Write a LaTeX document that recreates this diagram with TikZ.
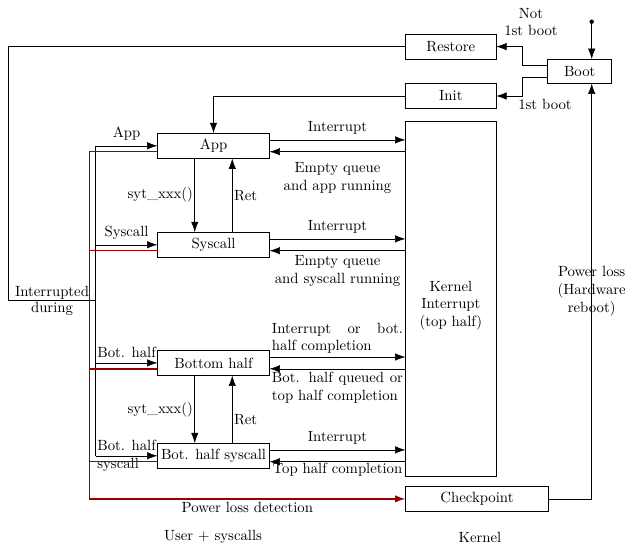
\documentclass[tikz,border=0pt]{standalone}
\usetikzlibrary{arrows.meta, positioning, calc}
\definecolor{lossRed}{RGB}{150,0,0}

\begin{document}
\begin{tikzpicture}[
  x=0.0238cm, y=-0.0238cm,
  box/.style     ={draw, align=center, inner sep=1pt, minimum height=0.59cm},
  user/.style    ={box, minimum width=2.656cm},
  kbox/.style    ={box, minimum width=2.149cm},
  flow/.style    ={-{Latex[length=7pt, width=5pt]}},
  loss/.style    ={draw=lossRed, line width=1pt},
  lossflow/.style={loss, -{Latex[length=7pt, width=5pt]}},
  note/.style    ={align=justify, text width=3.12cm, inner sep=2pt},
]
\useasboundingbox (0,0) rectangle (625,546);

% ----- Boot side -----
\node[kbox] (restore) at (450.85,46.6) {Restore};
\node[kbox] (init)    at (450.85,96)   {Init};
\node[box, minimum width=1.523cm, minimum height=0.571cm] (boot) at (579.7,71.3) {Boot};

% ----- User + syscalls -----
\node[user] (app) at (213.5,145.8) {App};
\node[user] (sys) at (213.5,244.8) {Syscall};
\node[user] (bh)  at (213.5,362.9) {Bottom half};
\node[user] (bhs) at (213.5,455.8) {Bot. half syscall};

% ----- Kernel -----
\node[kbox, minimum height=8.466cm] (kern) at (450.85,298.85)
  {\rule{0pt}{16pt}Kernel\\Interrupt\\(top half)};
\node[box, minimum width=3.394cm] (ckpt) at (477,498.9) {Checkpoint};

% Helper coordinates
\coordinate (bootIn) at (591.7,21.7);
\coordinate (bootX)  at (522.7,0);
\coordinate (outerX) at (8.3,0);
\coordinate (entryX) at (95.7,0);
\coordinate (lossX)  at (89.3,0);
\coordinate (resume) at (95.7,300);

% ----- Boot arrows -----
\fill (bootIn) circle (1.5pt);
\draw[flow] (bootIn) -- (bootIn |- boot.north);
\draw[flow] ([yshift=4.3pt]boot.west) -- ([yshift=4.3pt]boot.west -| bootX) |- (restore.east);
\draw[flow] ([yshift=-4.3pt]boot.west) -- ([yshift=-4.3pt]boot.west -| bootX) |- (init.east);
\node[align=center] (lblNot) at (531,22) {Not\\1st boot};
\node (lblFirst) at (545,104) {1st boot};

\draw[flow] (init.west) -| (app.north);
\draw (restore.west) -| (outerX |- resume) -- (resume)
  node[midway, above, inner sep=0.5pt] {Interrupted}
  node[midway, below, inner sep=1pt] {during};

% ----- Entries into user states -----
\draw (entryX |- app.west) -- (entryX |- bhs.west);
\draw[flow] (entryX |- app.west) -- (app.west) node[midway, above] {App};
\draw[flow] (entryX |- sys.west) -- (sys.west) node[midway, above] {Syscall};
\draw[flow] (entryX |- bh.west)  -- (bh.west)  node[midway, above] {Bot. half};
\draw[flow] (entryX |- bhs.west) -- (bhs.west) node[midway, align=left] {Bot. half\\syscall};

% ----- Syscalls and returns -----
\draw[flow] ([xshift=-12.7pt]app.south) -- ([xshift=-12.7pt]sys.north)
  node[midway, left, inner sep=1pt] {syt\_xxx()};
\draw[flow] ([xshift=12.7pt]sys.north) -- ([xshift=12.7pt]app.south)
  node[midway, right, inner sep=1pt] {Ret};
\draw[flow] ([xshift=-12.7pt]bh.south) -- ([xshift=-12.7pt]bhs.north)
  node[midway, left, inner sep=1pt] {syt\_xxx()};
\draw[flow] ([xshift=12.7pt]bhs.north) -- ([xshift=12.7pt]bh.south)
  node[pos=0.35, right, inner sep=1pt] {Ret};

% ----- To and from the kernel -----
\draw[flow] ([yshift=4pt]app.east) -- ([yshift=4pt]app.east -| kern.west)
  node[midway, above] {Interrupt};
\draw[flow] ([yshift=-4pt]app.east -| kern.west) -- ([yshift=-4pt]app.east)
  node[midway, below, yshift=-4pt, align=center] {Empty queue\\and app running};

\draw[flow] ([yshift=4pt]sys.east) -- ([yshift=4pt]sys.east -| kern.west)
  node[midway, above] {Interrupt};
\draw[flow] ([yshift=-4pt]sys.east -| kern.west) -- ([yshift=-4pt]sys.east)
  node[midway, below, align=center] {Empty queue\\and syscall running};

\draw[flow] ([yshift=4pt]bh.east) -- ([yshift=4pt]bh.east -| kern.west)
  node[midway, above, note] {Interrupt or bot. half completion};
\draw[flow] ([yshift=-4pt]bh.east -| kern.west) -- ([yshift=-4pt]bh.east)
  node[midway, below, note] {Bot. half queued or top half completion};

\draw[flow] ([yshift=4pt]bhs.east) -- ([yshift=4pt]bhs.east -| kern.west)
  node[midway, above] {Interrupt};
\draw[flow] ([yshift=-4pt]bhs.east -| kern.west) -- ([yshift=-4pt]bhs.east)
  node[midway, below, inner sep=1pt] {Top half completion};

% ----- Power loss -----
\draw[lossflow] ([yshift=-4pt]app.west) -| (lossX |- ckpt.west) -- (ckpt.west)
  node[midway, below, inner sep=1.5pt] {Power loss detection};
\foreach \n in {sys, bh, bhs}
  \draw[loss] ([yshift=-4pt]\n.west) -- ([yshift=-4pt]\n.west -| lossX);

\draw[flow] (ckpt.east) -- (ckpt.east -| bootIn) -- (bootIn |- boot.south)
  node[midway, align=center] {Power loss\\(Hardware\\reboot)};

% ----- Captions -----
\node (userCap) at (213,537) {User $+$ syscalls};
\node (kernCap) at (480,537) {Kernel};

\end{tikzpicture}
\end{document}
